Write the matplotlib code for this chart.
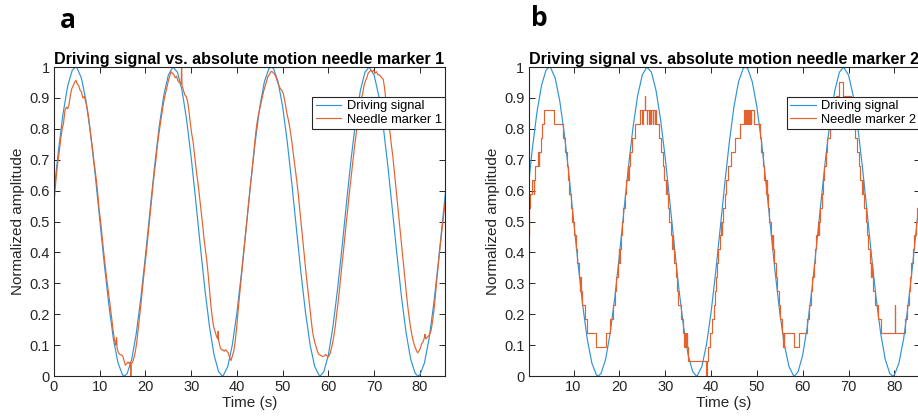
import matplotlib

matplotlib.use("Agg")
import matplotlib.pyplot as plt

# driving signal (normalized), same for both panels
drive_t = [0, 1, 2, 3, 4, 4.7, 5, 6, 7, 8, 9, 10, 11, 12, 13, 14, 15, 15.4, 16, 17,
           18, 19, 20, 21, 22, 23, 24, 25, 26, 27, 28, 29, 30, 31, 32, 33, 34, 35,
           36, 36.8, 37, 38, 39, 40, 41, 42, 43, 44, 45, 46, 47, 47.5, 48, 49, 50,
           51, 52, 53, 54, 55, 56, 57, 58, 58.2, 59, 60, 61, 62, 63, 64, 65, 66,
           67, 68, 68.9, 70, 71, 72, 73, 74, 75, 76, 77, 78, 79, 79.6, 80, 81, 82,
           83, 84, 85, 86]
drive_v = [.595, .733, .851, .939, .990, 1.0, .998, .964, .890, .783, .652, .507,
           .362, .229, .119, .042, .003, 0, .008, .054, .139, .254, .390, .536,
           .679, .807, .908, .974, 1.0, .983, .924, .829, .707, .566, .420, .280,
           .160, .068, .014, 0, .001, .031, .101, .205, .334, .478, .623, .758,
           .871, .952, .995, 1.0, .995, .952, .871, .759, .624, .478, .334, .205,
           .101, .031, .001, 0, .014, .068, .160, .280, .419, .566, .706, .829,
           .924, .983, 1.0, .974, .908, .807, .680, .537, .391, .254, .139, .054,
           .008, 0, .003, .042, .119, .229, .362, .507, .651]

# needle marker 1 (panel a)
m1_t = [0, 0.4, 0.8, 1.1, 1.5, 1.8, 2.1, 2.4, 2.7, 3.0, 3.3, 3.6, 3.9, 4.2, 4.5,
        4.8, 5.1, 5.4, 5.7, 6.0, 6.3, 6.6, 6.9, 7.2, 7.5, 7.8, 8.1, 8.4, 8.7, 9.0,
        9.3, 9.6, 9.9, 10.2, 10.5, 10.8, 11.1, 11.4, 11.7, 12.0, 12.3, 12.6, 12.9,
        13.2, 13.5, 13.7, 13.8, 14.1, 14.4, 14.7, 15.0, 15.3, 15.6, 15.9, 16.2,
        16.5, 16.7, 16.8, 16.9, 17.2, 17.5, 17.8, 18.1, 18.4, 18.7, 19.0, 19.3,
        19.6, 19.9, 20.2, 20.5, 20.8, 21.1, 21.4, 21.7, 22.0, 22.3, 22.6, 22.9,
        23.2, 23.5, 23.8, 24.1, 24.4, 24.7, 25.0, 25.3, 25.6, 25.9, 26.2, 26.5,
        26.8, 27.1, 27.4, 27.8, 27.9, 28.0, 28.3, 28.6, 28.9, 29.2, 29.5, 29.8,
        30.1, 30.4, 30.7, 31.0, 31.3, 31.6, 31.9, 32.2, 32.5, 32.8, 33.1, 33.4,
        33.7, 34.0, 34.3, 34.6, 34.9, 35.2, 35.5, 35.8, 35.9, 36.0, 36.3, 36.6,
        36.9, 37.2, 37.5, 37.8, 38.1, 38.4, 38.7, 39.0, 39.3, 39.6, 39.9, 40.2,
        40.5, 40.8, 41.1, 41.4, 41.7, 42.0, 42.3, 42.6, 42.9, 43.2, 43.5, 43.8,
        44.1, 44.4, 44.7, 45.0, 45.3, 45.6, 45.9, 46.2, 46.5, 46.8, 47.1, 47.4,
        47.7, 48.0, 48.3, 48.6, 48.9, 49.2, 49.5, 49.8, 50.1, 50.4, 50.7, 51.0,
        51.3, 51.6, 51.9, 52.2, 52.5, 52.8, 53.1, 53.4, 53.7, 54.0, 54.3, 54.6,
        54.9, 55.2, 55.5, 55.8, 56.1, 56.4, 56.7, 57.0, 57.3, 57.6, 57.9, 58.2,
        58.5, 58.8, 59.1, 59.4, 59.7, 60.0, 60.3, 60.6, 60.9, 61.2, 61.5, 61.8,
        62.1, 62.4, 62.7, 63.0, 63.3, 63.6, 63.9, 64.2, 64.5, 64.8, 65.1, 65.4,
        65.7, 66.0, 66.3, 66.6, 66.9, 67.2, 67.5, 67.8, 68.1, 68.4, 68.7, 69.0,
        69.3, 69.6, 69.9, 70.2, 70.5, 70.8, 71.1, 71.4, 71.7, 72.0, 72.3, 72.6,
        72.9, 73.2, 73.5, 73.8, 74.1, 74.4, 74.7, 75.0, 75.3, 75.6, 75.9, 76.2,
        76.5, 76.8, 77.1, 77.4, 77.7, 78.0, 78.3, 78.6, 78.9, 79.2, 79.5, 79.8,
        80.1, 80.4, 80.7, 81.0, 81.1, 81.3, 81.6, 81.9, 82.2, 82.5, 82.8, 83.1,
        83.4, 83.7, 84.0, 84.3, 84.6, 84.9, 85.2, 85.5]
m1_v = [.56, .63, .69, .72, .77, .80, .82, .86, .87, .865, .88, .91, .93, .94, .95,
        .957, .945, .94, .925, .92, .90, .905, .89, .87, .845, .81, .77, .74, .70,
        .665, .63, .585, .535, .50, .455, .41, .37, .33, .295, .26, .225, .19, .15,
        .12, .10, .125, .09, .075, .07, .068, .066, .05, .035, .04, .045, .04,
        .045, 0, .04, .045, .06, .08, .11, .15, .19, .23, .275, .32, .36, .40,
        .445, .49, .535, .58, .625, .665, .70, .745, .78, .81, .84, .87, .895,
        .915, .935, .955, .97, .985, .98, .975, .965, .97, .955, .95, .945, 1.0,
        .94, .925, .91, .905, .89, .86, .82, .785, .76, .72, .68, .645, .61, .57,
        .53, .49, .445, .41, .375, .33, .28, .23, .19, .16, .145, .13, .12, .145,
        .115, .095, .085, .085, .08, .085, .08, .075, .06, .05, .065, .08, .11,
        .15, .20, .25, .295, .34, .385, .43, .475, .52, .565, .61, .65, .695,
        .74, .785, .82, .845, .865, .885, .905, .925, .94, .955, .97, .975, .985,
        .985, .98, .975, .965, .95, .94, .93, .925, .915, .895, .87, .845, .825,
        .80, .77, .735, .70, .665, .63, .59, .545, .50, .455, .41, .365, .32, .28,
        .24, .20, .16, .13, .11, .095, .08, .07, .068, .065, .063, .065, .07,
        .065, .062, .07, .085, .105, .13, .16, .20, .235, .275, .32, .365, .405,
        .45, .495, .535, .58, .62, .66, .70, .74, .775, .81, .84, .87, .895, .915,
        .94, .955, .965, .98, .985, .99, .985, .99, .98, .985, .975, .975, .97,
        .965, .96, .93, .89, .855, .82, .785, .745, .71, .665, .62, .575, .53,
        .485, .44, .395, .35, .305, .26, .22, .185, .155, .13, .11, .095, .085,
        .075, .08, .09, .105, .11, .125, .135, .12, .125, .13, .135, .15, .18,
        .215, .26, .31, .355, .40, .44, .48, .52, .56]

# needle marker 2 (panel b): quantized, change times and held levels
m2_t = [0, 0.2, 0.35, 0.6, 1.0, 1.3, 1.4, 1.7, 2.2, 2.4, 2.5, 2.9, 3.2, 3.6, 5.8,
        7.6, 8.1, 8.5, 8.8, 9.1, 9.4, 9.7, 10.0, 10.1, 10.2, 10.5, 10.8, 11.1,
        11.4, 11.5, 11.6, 11.8, 12.5, 13.0, 14.9, 17.0, 18.0, 18.6, 19.0, 19.3,
        19.6, 19.9, 20.0, 20.1, 20.3, 20.6, 20.9, 21.2, 21.5, 21.8, 21.9, 22.0,
        22.4, 22.8, 23.4, 24.6, 25.0, 25.1, 25.6, 25.7, 26.0, 26.1, 26.5, 26.6,
        26.9, 27.0, 27.3, 27.4, 27.7, 27.8, 28.0, 28.7, 29.1, 29.5, 29.8, 30.1,
        30.2, 30.3, 30.6, 30.9, 31.2, 31.5, 31.6, 31.7, 32.0, 32.3, 32.6, 32.9,
        33.4, 33.8, 34.2, 34.3, 34.5, 34.7, 34.8, 35.0, 35.4, 39.0, 39.2, 39.4,
        39.8, 40.2, 40.6, 40.9, 41.1, 41.3, 41.6, 41.9, 42.2, 42.4, 42.5, 42.7,
        43.0, 43.3, 43.6, 44.3, 45.3, 46.3, 47.2, 47.5, 47.6, 47.9, 48.0, 48.3,
        48.4, 48.7, 48.8, 49.3, 50.6, 51.0, 51.3, 51.6, 51.9, 52.1, 52.2, 52.4,
        52.7, 53.0, 53.3, 53.5, 53.6, 53.8, 54.1, 54.4, 54.8, 55.1, 55.5, 55.6,
        55.7, 55.9, 56.0, 58.0, 59.1, 60.9, 61.3, 61.7, 62.1, 62.4, 62.7, 63.0,
        63.3, 63.5, 63.6, 63.8, 64.1, 64.4, 64.7, 65.0, 65.4, 66.0, 66.6, 67.2,
        67.9, 68.8, 70.6, 71.0, 71.4, 71.8, 72.2, 72.5, 72.9, 73.1, 73.2, 73.4,
        73.7, 74.0, 74.3, 74.6, 74.9, 75.0, 75.1, 75.4, 75.8, 76.5, 77.1, 80.1,
        80.2, 82.3, 82.7, 83.1, 83.4, 83.7, 84.0, 84.3, 84.7, 85.0, 85.3, 86.0]
m2_v = [.50, .455, .545, .59, .635, .59, .635, .68, .725, .68, .725, .77, .815,
        .86, .815, .77, .725, .68, .635, .59, .545, .50, .455, .50, .455, .41,
        .365, .32, .275, .32, .275, .23, .185, .14, .095, .14, .185, .23, .275,
        .32, .365, .41, .365, .41, .455, .50, .545, .59, .635, .68, .635, .68,
        .725, .77, .815, .86, .815, .86, .905, .86, .815, .86, .815, .86, .815,
        .86, .815, .86, .815, .86, .815, .77, .725, .68, .635, .59, .635, .59,
        .545, .50, .455, .41, .455, .41, .365, .32, .275, .23, .185, .14, .095,
        .14, .095, .14, .095, .05, .05, 0, .05, .095, .14, .185, .23, .275, .32,
        .365, .41, .455, .50, .455, .50, .545, .59, .635, .68, .725, .77, .815,
        .86, .815, .86, .815, .86, .815, .86, .815, .86, .815, .77, .725, .68,
        .635, .59, .635, .59, .545, .50, .455, .41, .455, .41, .365, .32, .275,
        .23, .185, .14, .095, .14, .095, .14, .095, .14, .185, .23, .275, .32,
        .365, .41, .455, .50, .455, .50, .545, .59, .635, .68, .725, .77, .815,
        .86, .905, .95, .905, .86, .815, .77, .725, .68, .635, .59, .635, .59,
        .545, .50, .455, .41, .365, .32, .365, .32, .275, .23, .185, .14, .23,
        .14, .185, .23, .275, .32, .365, .41, .455, .50, .545, .59, .59]

yticks = [0, 0.1, 0.2, 0.3, 0.4, 0.5, 0.6, 0.7, 0.8, 0.9, 1]
ytick_labels = ["0", "0.1", "0.2", "0.3", "0.4", "0.5", "0.6", "0.7", "0.8", "0.9", "1"]
xticks = [0, 10, 20, 30, 40, 50, 60, 70, 80]

BLUE = "#2F94D6"
ORANGE = "#E4622E"
AXC = "#262626"

plt.rcParams["font.family"] = ["Liberation Sans", "DejaVu Sans"]

W, H = 918, 417
fig = plt.figure(figsize=(W / 100, H / 100), dpi=100)
ax_a = fig.add_axes([54 / W, 41 / H, 391 / W, 309 / H])
ax_b = fig.add_axes([528.6 / W, 41 / H, 391 / W, 309 / H])


def style(ax, x0, marker):
    ax.set_xlim(x0, 85.5)
    ax.set_ylim(0, 1)
    ax.set_xticks([x for x in xticks if x >= x0])
    ax.set_yticks(yticks)
    ax.set_yticklabels(ytick_labels)
    ax.tick_params(direction="in", top=True, right=True, length=4, width=0.7,
                   color=AXC, labelcolor=AXC, labelsize=10.5, pad=3)
    for s in ax.spines.values():
        s.set_color(AXC)
        s.set_linewidth(0.8)
    ax.set_xlabel("Time (s)", fontsize=11, color=AXC, labelpad=1)
    ax.set_ylabel("Normalized amplitude", fontsize=11, color=AXC, labelpad=3)
    ax.set_title(f"Driving signal vs. absolute motion needle marker {marker}",
                 fontsize=11.6, fontweight="bold", pad=2)
    leg = ax.legend(loc="upper right", bbox_to_anchor=(1.0, 0.903),
                    borderaxespad=0, fontsize=9.3, handlelength=2.0,
                    handletextpad=0.4, borderpad=0.25, labelspacing=0.1,
                    fancybox=False, framealpha=1)
    leg.get_frame().set_edgecolor(AXC)
    leg.get_frame().set_linewidth(0.8)


ax_a.plot(drive_t, drive_v, color=BLUE, lw=0.85, label="Driving signal")
ax_a.plot(m1_t, m1_v, color=ORANGE, lw=0.85, label="Needle marker 1")
style(ax_a, 0, 1)

ax_b.plot(drive_t, drive_v, color=BLUE, lw=0.85, label="Driving signal")
ax_b.plot(m2_t, m2_v, color=ORANGE, lw=0.85, drawstyle="steps-post",
          label="Needle marker 2")
style(ax_b, 0.2, 2)

fig.text(60 / W, 1 - 21 / H, "a", fontsize=19, fontweight="bold",
         family=["Open Sans", "DejaVu Sans"], va="center", ha="left")
fig.text(531 / W, 1 - 19 / H, "b", fontsize=19, fontweight="bold",
         family=["Open Sans", "DejaVu Sans"], va="center", ha="left")

fig.savefig("out.png", dpi=100)
